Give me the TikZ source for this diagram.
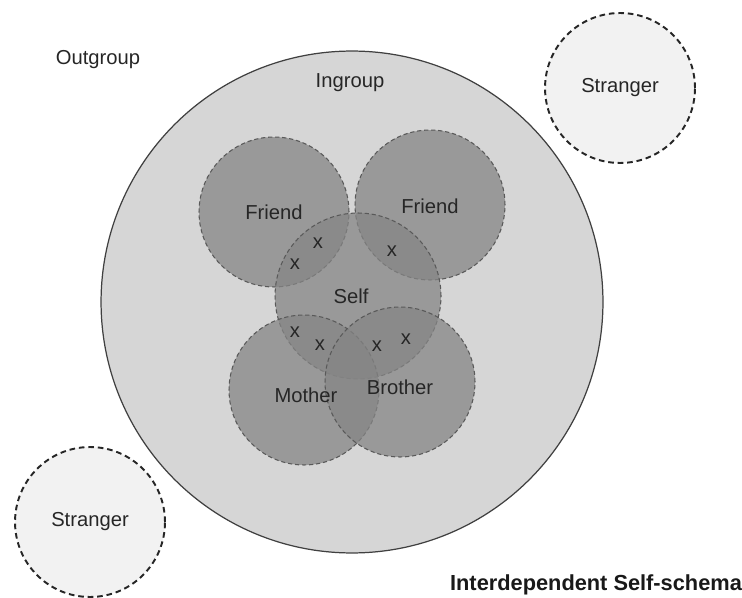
\documentclass[tikz,border=0pt]{standalone}
\usepackage{fontspec}
\setmainfont{Liberation Sans}
\begin{document}
\begin{tikzpicture}[x=0.02cm,y=-0.02cm,
  txt/.style={font=\fontsize{11.5}{13}\selectfont,text=black!85},
  ingroup/.style={circle,inner sep=0pt,minimum size=10.04cm,draw=black!75,line width=0.7pt,fill=black!16},
  stranger/.style={circle,inner sep=0pt,minimum size=3cm,draw=black!85,line width=1.1pt,dash pattern=on 3.2pt off 2.2pt,fill=black!5},
  member/.style={circle,inner sep=0pt,minimum size=3cm,draw=black!65,line width=0.6pt,dash pattern=on 2.4pt off 1.6pt,fill=black!48,fill opacity=0.74}
]
\useasboundingbox (0,0) rectangle (742,597);
% groups
\node[ingroup] (in) at (352,302) {};
\node[stranger] (str1) at (620,88) {};
\node[stranger] (str2) at (90,522) {};
% members of the self-schema
\node[member] (fr1) at (274,212) {};
\node[member] (fr2) at (430,205) {};
\node[member,minimum size=3.32cm] (self) at (358,296) {};
\node[member] (mo) at (304,390) {};
\node[member] (br) at (400,382) {};
% labels
\node[txt] (outl) at (98,60) {Outgroup};
\node[txt] (inl) at (350,83) {Ingroup};
\node[txt] at (str1) {Stranger};
\node[txt] at (str2) {Stranger};
\node[txt] at (fr1) {Friend};
\node[txt] at ([yshift=-1pt]fr2) {Friend};
\node[txt] at ([xshift=-4pt]self) {Self};
\node[txt] at ([shift={(2,5)}]mo) {Mother};
\node[txt] at ([shift={(0,5)}]br) {Brother};
% shared traits
\foreach \px/\py [count=\i] in {318/243,295/264,392/251,295/332,320/345,377/346,406/339}
  \node[txt] (x\i) at (\px,\py) {x};
\node[font=\fontsize{12.4}{14}\selectfont\bfseries,text=black!90] (title) at (596,585) {Interdependent Self-schema};
\end{tikzpicture}
\end{document}
